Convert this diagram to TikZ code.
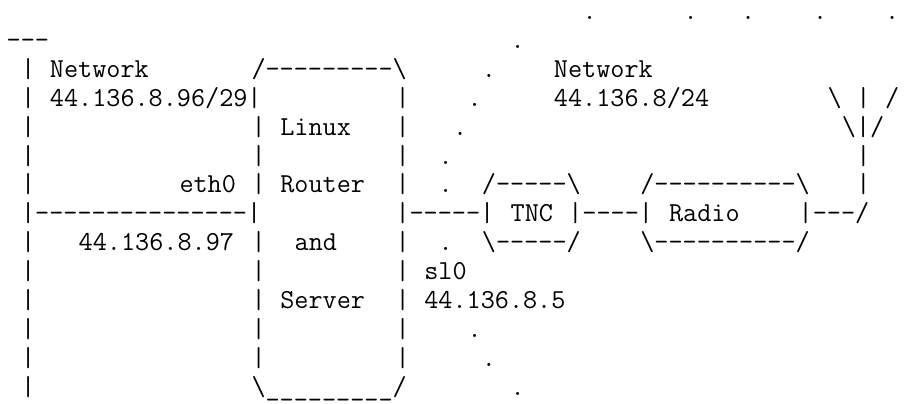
\documentclass[tikz,border=0pt]{standalone}
\usepackage{fontspec}
\setmonofont{Latin Modern Mono}
\tikzset{ascii/.style={anchor=base west, inner sep=0pt, outer sep=0pt,
    font=\ttfamily\fontsize{13.71}{14}\selectfont}}

\begin{document}
\begin{tikzpicture}[x=7.2pt, y=-14.45pt]
  \useasboundingbox (-3.35pt, 9.75pt) rectangle (449.15pt, -191.75pt);

  % vertical bars and the dotted radio path
  \foreach \r in {2,3,4,5,6,8,9,10,11,12,13} {
    \node[ascii] (lan\r) at (1, \r) {|};
  }
  \foreach \r in {4,5,6,8,9,10,11,12} {
    \node[ascii] (rtl\r) at (17, \r) {|};
  }
  \foreach \r in {3,4,5,6,8,9,10,11,12} {
    \node[ascii] (rtr\r) at (27, \r) {|};
  }
  \foreach \r in {3,5,6} {
    \node[ascii] (mast\r) at (59, \r) {|};
  }
  \foreach \c/\r [count=\i] in {40/0, 47/0, 51/0, 56/0, 61/0, 35/1, 33/2, 32/3, 31/4, 30/5, 30/6, 30/8, 32/11, 33/12, 35/13} {
    \node[ascii] (dot\i) at (\c, \r) {.};
  }

  \node[ascii] (wire) at (0, 1) {---};
  \node[ascii] (lannet) at (3, 2) {Network};
  \node[ascii] (lanaddr) at (3, 3) {44.136.8.96/29|};
  \node[ascii] (rtrtop) at (17, 2) {/---------\textbackslash};
  \node[ascii] (radnet) at (38, 2) {Network};
  \node[ascii] (radaddr) at (38, 3) {44.136.8/24};
  \node[ascii] (antl) at (57, 3) {\textbackslash};
  \node[ascii] (antr) at (61, 3) {/};
  \node[ascii] (antm) at (58, 4) {\textbackslash|/};
  \node[ascii] (linux) at (19, 4) {Linux};
  \node[ascii] (eth) at (12, 6) {eth0};
  \node[ascii] (router) at (19, 6) {Router};
  \node[ascii] (tnctop) at (33, 6) {/-----\textbackslash};
  \node[ascii] (radiotop) at (44, 6) {/----------\textbackslash};
  \node[ascii] (ether) at (1, 7) {|---------------|};
  \node[ascii] (serial) at (27, 7) {|-----|};
  \node[ascii] (tnc) at (35, 7) {TNC};
  \node[ascii] (link) at (39, 7) {|----|};
  \node[ascii] (radio) at (46, 7) {Radio};
  \node[ascii] (feed) at (55, 7) {|---/};
  \node[ascii] (ethaddr) at (5, 8) {44.136.8.97};
  \node[ascii] (and) at (20, 8) {and};
  \node[ascii] (tncbot) at (33, 8) {\textbackslash-----/};
  \node[ascii] (radiobot) at (44, 8) {\textbackslash----------/};
  \node[ascii] (sl) at (29, 9) {sl0};
  \node[ascii] (server) at (19, 10) {Server};
  \node[ascii] (sladdr) at (29, 10) {44.136.8.5};
  \node[ascii] (rtrbot) at (17, 13) {\textbackslash\_\_\_\_\_\_\_\_\_/};

\end{tikzpicture}
\end{document}
